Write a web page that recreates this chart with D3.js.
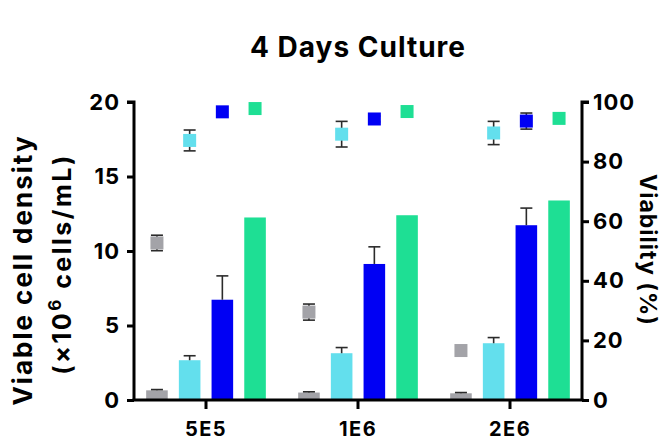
<!DOCTYPE html>
<html>
<head>
<meta charset="utf-8">
<script src="https://cdn.jsdelivr.net/npm/d3@7"></script>
<style>
  html, body { margin: 0; padding: 0; background: #ffffff; }
  svg { display: block; }
  text { font-family: Inter, "Noto Sans", sans-serif; font-weight: 700; fill: #000; }
</style>
</head>
<body>
<svg id="chart" width="665" height="441"></svg>
<script>
// ---- data ----
const categories = ["5E5", "1E6", "2E6"];
const seriesNames = ["S1", "S2", "S3", "S4"];
const seriesColors = ["#a3a3a8", "#63dfed", "#0000f4", "#1edf94"];

// Viable cell density (bars, left axis, x10^6 cells/mL)
const vcdS1 = [0.65, 0.5, 0.45];
const vcdS2 = [2.67, 3.14, 3.81];
const vcdS3 = [6.73, 9.13, 11.73];
const vcdS4 = [12.25, 12.4, 13.39];
const vcdErrS1 = [0.05, 0.05, 0.05];
const vcdErrS2 = [0.3, 0.38, 0.38];
const vcdErrS3 = [1.6, 1.15, 1.15];
const vcdErrS4 = [0, 0, 0];

// Viability (squares, right axis, %)
const viaS1 = [52.7, 29.5, 16.6];
const viaS2 = [87.1, 89.2, 89.6];
const viaS3 = [96.7, 94.3, 93.6];
const viaS4 = [97.8, 96.8, 94.5];
const viaErrS1 = [2.6, 2.7, 0];
const viaErrS2 = [3.5, 4.3, 3.9];
const viaErrS3 = [0, 1.0, 2.7];
const viaErrS4 = [0, 0, 0];

const leftTicks = [0, 5, 10, 15, 20];
const rightTicks = [0, 20, 40, 60, 80, 100];
const titleText = "4 Days Culture";

// ---- build table ----
const vcd = [vcdS1, vcdS2, vcdS3, vcdS4];
const vcdErr = [vcdErrS1, vcdErrS2, vcdErrS3, vcdErrS4];
const via = [viaS1, viaS2, viaS3, viaS4];
const viaErr = [viaErrS1, viaErrS2, viaErrS3, viaErrS4];
const rows = [];
categories.forEach((c, ci) => {
  seriesNames.forEach((s, si) => {
    rows.push({cat: c, ser: s, si, vcd: vcd[si][ci], vcdErr: vcdErr[si][ci], via: via[si][ci], viaErr: viaErr[si][ci]});
  });
});

// ---- layout ----
const plotL = 134, plotR = 582, plotT = 102, plotB = 400;
const svg = d3.select("#chart");

const x = d3.scaleBand().domain(categories).range([plotL - 4, plotR + 4]).padding(0);
const xs = d3.scaleBand().domain(seriesNames).range([0, x.bandwidth()]).paddingInner(0.34).paddingOuter(0.494);
const yL = d3.scaleLinear().domain([0, 20]).range([plotB, plotT]);
const yR = d3.scaleLinear().domain([0, 100]).range([plotB, plotT]);
const color = d3.scaleOrdinal().domain(seriesNames).range(seriesColors);

const errColor = "#2b2b2b";
const errW = 1.6;
const capW = 12;
const sq = 13;

// bars
svg.append("g").selectAll("rect.bar").data(rows).join("rect")
  .attr("class", "bar")
  .attr("x", d => x(d.cat) + xs(d.ser))
  .attr("y", d => yL(d.vcd))
  .attr("width", xs.bandwidth())
  .attr("height", d => yL(0) - yL(d.vcd))
  .attr("fill", d => color(d.ser));

// bar error bars (upward)
const gBE = svg.append("g").attr("stroke", errColor).attr("stroke-width", errW).attr("fill", "none");
rows.filter(d => d.vcdErr > 0).forEach(d => {
  const cx = x(d.cat) + xs(d.ser) + xs.bandwidth() / 2;
  gBE.append("line").attr("x1", cx).attr("x2", cx).attr("y1", yL(d.vcd)).attr("y2", yL(d.vcd + d.vcdErr));
  gBE.append("line").attr("x1", cx - capW / 2).attr("x2", cx + capW / 2).attr("y1", yL(d.vcd + d.vcdErr)).attr("y2", yL(d.vcd + d.vcdErr));
});

// viability error bars (both directions)
const gPE = svg.append("g").attr("stroke", errColor).attr("stroke-width", errW).attr("fill", "none");
rows.filter(d => d.viaErr > 0).forEach(d => {
  const cx = x(d.cat) + xs(d.ser) + xs.bandwidth() / 2;
  const y1 = yR(d.via + d.viaErr), y2 = yR(d.via - d.viaErr);
  gPE.append("line").attr("x1", cx).attr("x2", cx).attr("y1", y1).attr("y2", y2);
  gPE.append("line").attr("x1", cx - capW / 2).attr("x2", cx + capW / 2).attr("y1", y1).attr("y2", y1);
  gPE.append("line").attr("x1", cx - capW / 2).attr("x2", cx + capW / 2).attr("y1", y2).attr("y2", y2);
});

// viability squares
svg.append("g").selectAll("rect.pt").data(rows).join("rect")
  .attr("class", "pt")
  .attr("x", d => x(d.cat) + xs(d.ser) + xs.bandwidth() / 2 - sq / 2)
  .attr("y", d => yR(d.via) - sq / 2)
  .attr("width", sq).attr("height", sq)
  .attr("fill", d => color(d.ser));

// ---- axes ----
const axisW = 3;
const gL = svg.append("g").attr("transform", `translate(${plotL},0)`)
  .call(d3.axisLeft(yL).tickValues(leftTicks).tickFormat(d3.format("d")).tickSize(7).tickPadding(7));
const gR = svg.append("g").attr("transform", `translate(${plotR},0)`)
  .call(d3.axisRight(yR).tickValues(rightTicks).tickFormat(d3.format("d")).tickSize(7).tickPadding(4));
const gB = svg.append("g").attr("transform", `translate(0,${plotB})`)
  .call(d3.axisBottom(x).tickSize(9).tickPadding(13));
gB.select(".domain").remove();
svg.append("line").attr("x1", plotL - axisW / 2).attr("x2", plotR + axisW / 2)
  .attr("y1", plotB).attr("y2", plotB).attr("stroke", "#000").attr("stroke-width", axisW);

[gL, gR, gB].forEach(g => {
  g.selectAll("path.domain").attr("stroke", "#000").attr("stroke-width", axisW);
  g.selectAll(".tick line").attr("stroke", "#000").attr("stroke-width", axisW);
  g.selectAll(".tick text").attr("fill", "#000").style("font-family", "Inter, 'Noto Sans', sans-serif").style("font-weight", 700);
});
gL.select("path.domain").attr("d", `M-7,${plotT}H0V${plotB}`);
gR.select("path.domain").attr("d", `M7,${plotT}H0V${plotB}`);
gL.selectAll(".tick text").style("font-size", "22px").style("letter-spacing", "1px");
gR.selectAll(".tick text").style("font-size", "22px").style("letter-spacing", "1px");
gB.selectAll(".tick text").style("font-size", "20px").style("letter-spacing", "1.5px");

// ---- titles ----
svg.append("text").attr("x", (plotL + plotR) / 2).attr("y", 57)
  .attr("text-anchor", "middle").style("font-size", "28px").style("letter-spacing", "1px").text(titleText);

svg.append("text").attr("transform", "translate(32,270) rotate(-90)")
  .attr("text-anchor", "middle").style("font-size", "26px").style("letter-spacing", "2px").text("Viable cell density");
const t2 = svg.append("text").attr("transform", "translate(71,264) rotate(-90)")
  .attr("text-anchor", "middle").style("font-size", "25px").style("letter-spacing", "2.5px");
t2.append("tspan").text("(×10");
t2.append("tspan").attr("dy", -10).style("font-size", "17px").text("6");
t2.append("tspan").attr("dy", 10).text(" cells/mL)");

svg.append("text").attr("transform", "translate(640,250) rotate(90)")
  .attr("text-anchor", "middle").style("font-size", "23px").style("letter-spacing", "1px").text("Viability (%)");
</script>
</body>
</html>
